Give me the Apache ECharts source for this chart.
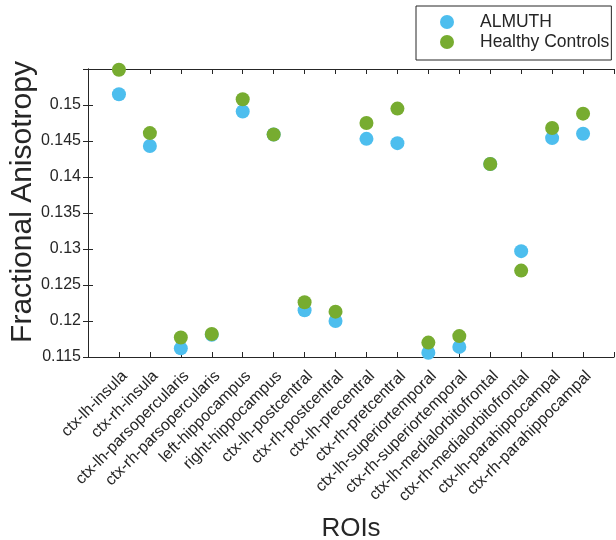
<!DOCTYPE html>
<html>
<head>
<meta charset="utf-8">
<script src="https://cdn.jsdelivr.net/npm/echarts@6/dist/echarts.min.js"></script>
<style>
  html, body { margin: 0; padding: 0; background: #fff; }
  #chart { width: 616px; height: 540px; }
</style>
</head>
<body>
<div id="chart"></div>
<script>
var rois = ['ctx-lh-insula', 'ctx-rh-insula', 'ctx-lh-parsopercularis', 'ctx-rh-parsopercularis',
  'left-hippocampus', 'right-hippocampus', 'ctx-lh-postcentral', 'ctx-rh-postcentral',
  'ctx-lh-precentral', 'ctx-rh-pretcentral', 'ctx-lh-superiortemporal', 'ctx-rh-superiortemporal',
  'ctx-lh-medialorbitofrontal', 'ctx-rh-medialorbitofrontal', 'ctx-lh-parahippocampal', 'ctx-rh-parahippocampal'];
var almuth = [0.1515, 0.1443, 0.1162, 0.1181, 0.1491, 0.1459, 0.1215, 0.1200,
  0.1453, 0.1447, 0.1156, 0.1164, 0.1418, 0.1297, 0.1454, 0.1460];
var controls = [0.1549, 0.1461, 0.1177, 0.1182, 0.1508, 0.1459, 0.1226, 0.1213,
  0.1475, 0.1495, 0.1170, 0.1179, 0.1418, 0.1270, 0.1468, 0.1488];

function toPoints(arr) {
  var out = [];
  for (var i = 0; i < arr.length; i++) {
    out.push([i + 1, arr[i]]);
  }
  return out;
}

var font = '"Liberation Sans", Arial, Helvetica, sans-serif';
var axisColor = '#262626';

var chart = echarts.init(document.getElementById('chart'));
var option = {
  animation: false,
  textStyle: { fontFamily: font },
  grid: { left: 88, right: 2, top: 69, bottom: 183, containLabel: false, outerBoundsMode: 'none' },
  legend: {
    orient: 'vertical',
    left: 416,
    top: 6,
    padding: [7, 2, 9, 24],
    itemWidth: 14,
    itemHeight: 14,
    itemGap: 2,
    backgroundColor: '#fff',
    borderColor: axisColor,
    borderWidth: 1,
    borderRadius: 0,
    textStyle: { fontSize: 17.5, color: axisColor, fontFamily: font, padding: [0, 0, 0, 21] },
    data: ['ALMUTH', 'Healthy Controls']
  },
  xAxis: [{
    type: 'value',
    min: 0,
    max: 17,
    interval: 1,
    name: 'ROIs',
    nameLocation: 'middle',
    nameGap: 159,
    nameMoveOverlap: false,
    nameTextStyle: { fontSize: 26, color: axisColor, fontFamily: font },
    axisLine: { lineStyle: { color: axisColor, width: 1 } },
    axisTick: { inside: true, length: 5, lineStyle: { color: axisColor } },
    axisLabel: {
      rotate: 45,
      margin: 11,
      verticalAlign: 'top',
      fontSize: 16,
      color: axisColor,
      fontFamily: font,
      formatter: function (v) { return rois[v - 1] || ''; }
    },
    splitLine: { show: false }
  }, {
    type: 'value',
    position: 'top',
    min: 0,
    max: 17,
    interval: 1,
    axisLine: { lineStyle: { color: axisColor, width: 1 } },
    axisTick: { inside: true, length: 5, lineStyle: { color: axisColor } },
    axisLabel: { show: false },
    splitLine: { show: false }
  }],
  yAxis: [{
    type: 'value',
    min: 0.115,
    max: 0.155,
    interval: 0.005,
    name: 'Fractional Anisotropy',
    nameLocation: 'middle',
    nameGap: 50,
    nameMoveOverlap: false,
    nameTextStyle: { fontSize: 30, color: axisColor, fontFamily: font, padding: [0, 0, 0, 22] },
    axisLine: { show: true, lineStyle: { color: axisColor, width: 1 } },
    axisTick: { show: true, inside: true, length: 5, lineStyle: { color: axisColor } },
    axisLabel: { fontSize: 16, color: axisColor, fontFamily: font, margin: 7, showMaxLabel: false },
    splitLine: { show: false }
  }, {
    type: 'value',
    position: 'right',
    min: 0.115,
    max: 0.155,
    interval: 0.005,
    axisLine: { show: true, lineStyle: { color: axisColor, width: 1 } },
    axisTick: { show: true, inside: true, length: 5, lineStyle: { color: axisColor } },
    axisLabel: { show: false },
    splitLine: { show: false }
  }],
  series: [{
    name: 'ALMUTH',
    type: 'scatter',
    symbol: 'circle',
    symbolSize: 14,
    clip: false,
    itemStyle: { color: '#4DBEEE', opacity: 1 },
    data: toPoints(almuth),
    z: 2
  }, {
    name: 'Healthy Controls',
    type: 'scatter',
    symbol: 'circle',
    symbolSize: 14,
    clip: false,
    itemStyle: { color: '#77AC30', opacity: 1 },
    data: toPoints(controls),
    z: 3
  }]
};
chart.setOption(option);
</script>
</body>
</html>
